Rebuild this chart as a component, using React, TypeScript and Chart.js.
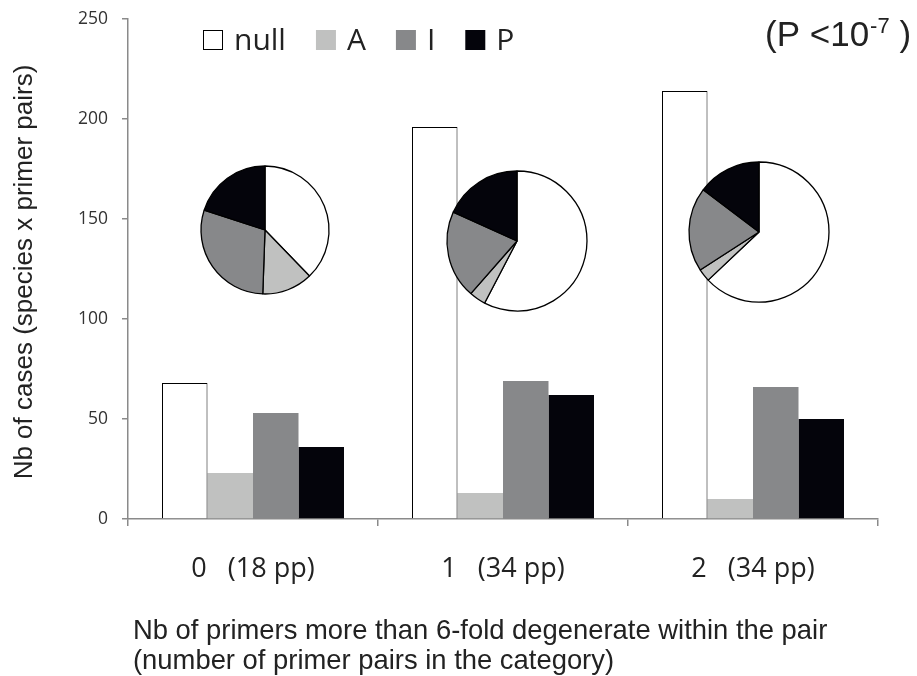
import React, { useEffect, useRef } from "react";
import { Chart, registerables } from "chart.js";

Chart.register(...registerables);

// ---- data ----
const categories = ["0   (18 pp)", "1   (34 pp)", "2   (34 pp)"];
const seriesNames = ["null", "A", "I", "P"];
const nullValues = [68, 196, 214];
const aValues = [23, 13, 10];
const iValues = [53, 69, 66];
const pValues = [36, 62, 50];
const yTicks = [0, 50, 100, 150, 200, 250];
const yTitle = "Nb of cases (species x primer pairs)";
const xTitleLines = [
  "Nb of primers more than 6-fold degenerate within the pair",
  "(number of primer pairs in the category)",
];
const pNote = { main: "(P <10", sup: "-7", tail: " )" };

// ---- styles / layout ----
const seriesColors = ["#ffffff", "#c0c1c0", "#87888a", "#04040b"];
const seriesBorders = ["#000000", "#c0c1c0", "#87888a", "#04040b"];
const seriesBorderWidths = [1, 0, 0, 0];
const pieLayout = [
  { cx: 265, cy: 230, r: 64 },
  { cx: 517, cy: 241, r: 70 },
  { cx: 759, cy: 232, r: 70 },
];
const W = 917;
const H = 676;
const axisColor = "#8a8a8a";

const allSeries = [nullValues, aValues, iValues, pValues];

const overlayPlugin = {
  id: "overlay",
  afterDraw(chart: any) {
    const ctx = chart.ctx as CanvasRenderingContext2D;
    const area = chart.chartArea;
    ctx.save();
    // y title
    ctx.fillStyle = "#222";
    ctx.font = "26px 'Liberation Sans', Arial, sans-serif";
    ctx.textAlign = "center";
    ctx.textBaseline = "middle";
    ctx.save();
    ctx.translate(25, (area.top + area.bottom) / 2 + 3);
    ctx.rotate(-Math.PI / 2);
    ctx.fillText(yTitle, 0, 0);
    ctx.restore();
    // x title
    ctx.font = "27.4px 'Liberation Sans', Arial, sans-serif";
    ctx.textAlign = "left";
    ctx.textBaseline = "middle";
    xTitleLines.forEach((line, i) => ctx.fillText(line, 133, 631 + i * 30));
    // legend
    ctx.font = "30px 'Open Sans', sans-serif";
    let x = 203;
    const sq = 20;
    const ly = 40;
    chart.data.datasets.forEach((ds: any, i: number) => {
      ctx.fillStyle = seriesColors[i];
      ctx.fillRect(x, ly - sq / 2, sq, sq);
      if (i === 0) {
        ctx.strokeStyle = "#000";
        ctx.lineWidth = 1;
        ctx.strokeRect(x + 0.5, ly - sq / 2 + 0.5, sq - 1, sq - 1);
      }
      x += sq + 11;
      ctx.fillStyle = "#222";
      ctx.textBaseline = "middle";
      ctx.fillText(ds.label, x, ly + 1);
      x += ctx.measureText(ds.label).width + 30;
    });
    // P-value note
    ctx.textBaseline = "alphabetic";
    ctx.fillStyle = "#222";
    ctx.font = "35px 'Liberation Sans', Arial, sans-serif";
    let px = 765;
    ctx.fillText(pNote.main, px, 46);
    px += ctx.measureText(pNote.main).width + 1;
    ctx.font = "22px 'Liberation Sans', Arial, sans-serif";
    ctx.fillText(pNote.sup, px, 33);
    px += ctx.measureText(pNote.sup).width;
    ctx.font = "35px 'Liberation Sans', Arial, sans-serif";
    ctx.fillText(pNote.tail, px, 46);
    ctx.restore();
  },
};

function PieInset({ index }: { index: number }) {
  const ref = useRef<HTMLCanvasElement>(null);
  const { cx, cy, r } = pieLayout[index];
  const S = 2 * r + 10;
  useEffect(() => {
    if (!ref.current) return;
    const chart = new Chart(ref.current, {
      type: "pie",
      data: {
        labels: seriesNames,
        datasets: [
          {
            data: allSeries.map((s) => s[index]),
            backgroundColor: seriesColors,
            borderColor: "#000",
            borderWidth: 1.3,
          },
        ],
      },
      options: {
        responsive: false,
        animation: false,
        radius: r,
        layout: { padding: 0 },
        plugins: { legend: { display: false }, tooltip: { enabled: false } },
      } as any,
    });
    return () => chart.destroy();
  }, [index]);
  return (
    <canvas
      ref={ref}
      width={S}
      height={S}
      style={{ position: "absolute", left: cx - S / 2, top: cy - S / 2, width: S, height: S }}
    />
  );
}

export default function App() {
  const ref = useRef<HTMLCanvasElement>(null);
  useEffect(() => {
    document.body.style.margin = "0";
    if (!ref.current) return;
    const chart = new Chart(ref.current, {
      type: "bar",
      data: {
        labels: categories,
        datasets: seriesNames.map((name, i) => ({
          label: name,
          data: allSeries[i],
          backgroundColor: seriesColors[i],
          borderColor: seriesBorders[i],
          borderWidth: seriesBorderWidths[i],
          categoryPercentage: 0.728,
          barPercentage: 1,
        })),
      },
      options: {
        responsive: false,
        animation: false,
        layout: { padding: { top: 19, right: 39, left: 0, bottom: 0 } },
        plugins: { legend: { display: false }, tooltip: { enabled: false } },
        scales: {
          x: {
            grid: {
              drawOnChartArea: false,
              drawTicks: true,
              tickLength: 7,
              color: axisColor,
              lineWidth: 1.5,
              offset: true,
            },
            border: { display: true, color: axisColor, width: 1.5 },
            ticks: {
              color: "#222",
              font: { family: "'Open Sans', sans-serif", size: 27 },
              padding: 27,
              maxRotation: 0,
            },
            afterFit: (scale: any) => {
              scale.height = 157;
            },
          },
          y: {
            min: 0,
            max: 250,
            afterBuildTicks: (scale: any) => {
              scale.ticks = yTicks.map((v) => ({ value: v }));
            },
            grid: {
              drawOnChartArea: false,
              drawTicks: true,
              tickLength: 6,
              color: axisColor,
              lineWidth: 1.5,
            },
            border: { display: true, color: axisColor, width: 1.5 },
            ticks: {
              color: "#333",
              font: { family: "'Open Sans', sans-serif", size: 17.5 },
              padding: 14,
            },
            afterFit: (scale: any) => {
              scale.width = 128;
              scale.paddingTop = 10;
              scale.paddingBottom = 10;
            },
          },
        },
      } as any,
      plugins: [overlayPlugin],
    });
    return () => chart.destroy();
  }, []);
  return (
    <div style={{ position: "relative", width: W, height: H, background: "#fff" }}>
      <canvas ref={ref} width={W} height={H} style={{ position: "absolute", left: 0, top: 0, width: W, height: H }} />
      {pieLayout.map((_, i) => (
        <PieInset key={i} index={i} />
      ))}
    </div>
  );
}
